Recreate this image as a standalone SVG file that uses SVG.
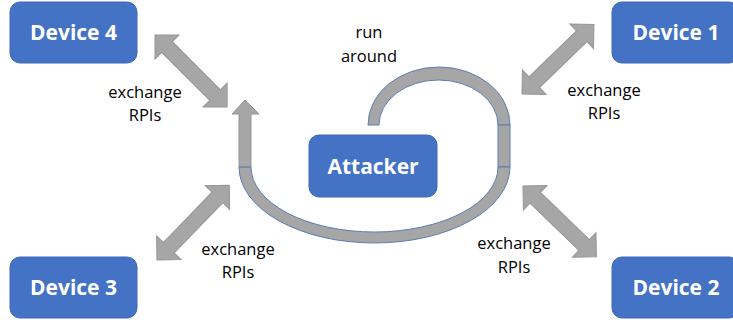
<svg xmlns="http://www.w3.org/2000/svg" width="733" height="325" viewBox="0 0 733 325">
  <style>
    .box { fill: #4472c4; stroke: #3d68b5; stroke-width: 1; }
    .box-label { font-family: "Open Sans", "Liberation Sans", sans-serif; font-weight: bold; font-size: 21px; fill: #ffffff; text-anchor: middle; }
    .label { font-family: "Open Sans", "Liberation Sans", sans-serif; font-size: 16.5px; fill: #000000; text-anchor: middle; }
    .dbl { fill: #a6a6a6; stroke: #959595; stroke-width: 1; stroke-linejoin: miter; }
    .loop { fill: #a6a6a6; stroke: #5b7cb6; stroke-width: 1; }
    .loop-head { fill: #a6a6a6; stroke: #959595; stroke-width: 1; }
  </style>

  <!-- connectors: two-way exchange arrows and the loop around the attacker -->
  <g id="connectors">
    <!-- Device 4 <-> centre -->
    <path class="dbl" transform="translate(155,35) rotate(45)" d="M0,0 L17,-17 L17,-7.5 L85,-7.5 L85,-17 L102,0 L85,17 L85,7.5 L17,7.5 L17,17 Z"/>
    <!-- Device 1 <-> centre -->
    <path class="dbl" transform="translate(522,94) rotate(-44)" d="M0,0 L17,-17 L17,-7.5 L83,-7.5 L83,-17 L100,0 L83,17 L83,7.5 L17,7.5 L17,17 Z"/>
    <!-- Device 3 <-> centre -->
    <path class="dbl" transform="translate(157,260) rotate(-46)" d="M0,0 L17,-17 L17,-7.5 L87,-7.5 L87,-17 L104,0 L87,17 L87,7.5 L17,7.5 L17,17 Z"/>
    <!-- Device 2 <-> centre -->
    <path class="dbl" transform="translate(523,186) rotate(44)" d="M0,0 L17,-17 L17,-7.5 L85,-7.5 L85,-17 L102,0 L85,17 L85,7.5 L17,7.5 L17,17 Z"/>

    <!-- "run around" loop -->
    <g id="loop">
      <path class="loop" d="M368,125 A71,58 0 0 1 510,125 L498,125 A59.5,45 0 0 0 379,125 Z"/>
      <rect class="loop" x="498" y="125" width="12" height="42"/>
      <path class="loop" d="M239,167 A135.5,76 0 0 0 510,167 L498,167 A123.5,65 0 0 1 251,167 Z"/>
      <path class="loop-head" d="M239,167 L239,114 L232,114 L245,100 L259,114 L251,114 L251,167 Z"/>
      <line x1="239" y1="167" x2="251" y2="167" stroke="#5b7cb6" stroke-width="1"/>
    </g>
  </g>

  <g id="device4">
    <rect class="box" x="10" y="2" width="127" height="61" rx="10"/>
    <text class="box-label" x="73.5" y="40">Device 4</text>
  </g>
  <g id="device1">
    <rect class="box" x="612" y="2" width="127" height="61" rx="10"/>
    <text class="box-label" x="676" y="40">Device 1</text>
  </g>
  <g id="device3">
    <rect class="box" x="10" y="257" width="127" height="61" rx="10"/>
    <text class="box-label" x="73.5" y="295">Device 3</text>
  </g>
  <g id="device2">
    <rect class="box" x="612" y="257" width="127" height="61" rx="10"/>
    <text class="box-label" x="676" y="295">Device 2</text>
  </g>
  <g id="attacker">
    <rect class="box" x="309" y="135" width="128" height="62" rx="10"/>
    <text class="box-label" x="373" y="173.5">Attacker</text>
  </g>

  <g id="labels">
    <text class="label" x="145" y="98">exchange</text>
    <text class="label" x="145" y="121">RPIs</text>
    <text class="label" x="369" y="38">run</text>
    <text class="label" x="369" y="62">around</text>
    <text class="label" x="604" y="96">exchange</text>
    <text class="label" x="604" y="119">RPIs</text>
    <text class="label" x="238" y="255">exchange</text>
    <text class="label" x="238" y="278">RPIs</text>
    <text class="label" x="514" y="249">exchange</text>
    <text class="label" x="514" y="273">RPIs</text>
  </g>
</svg>
